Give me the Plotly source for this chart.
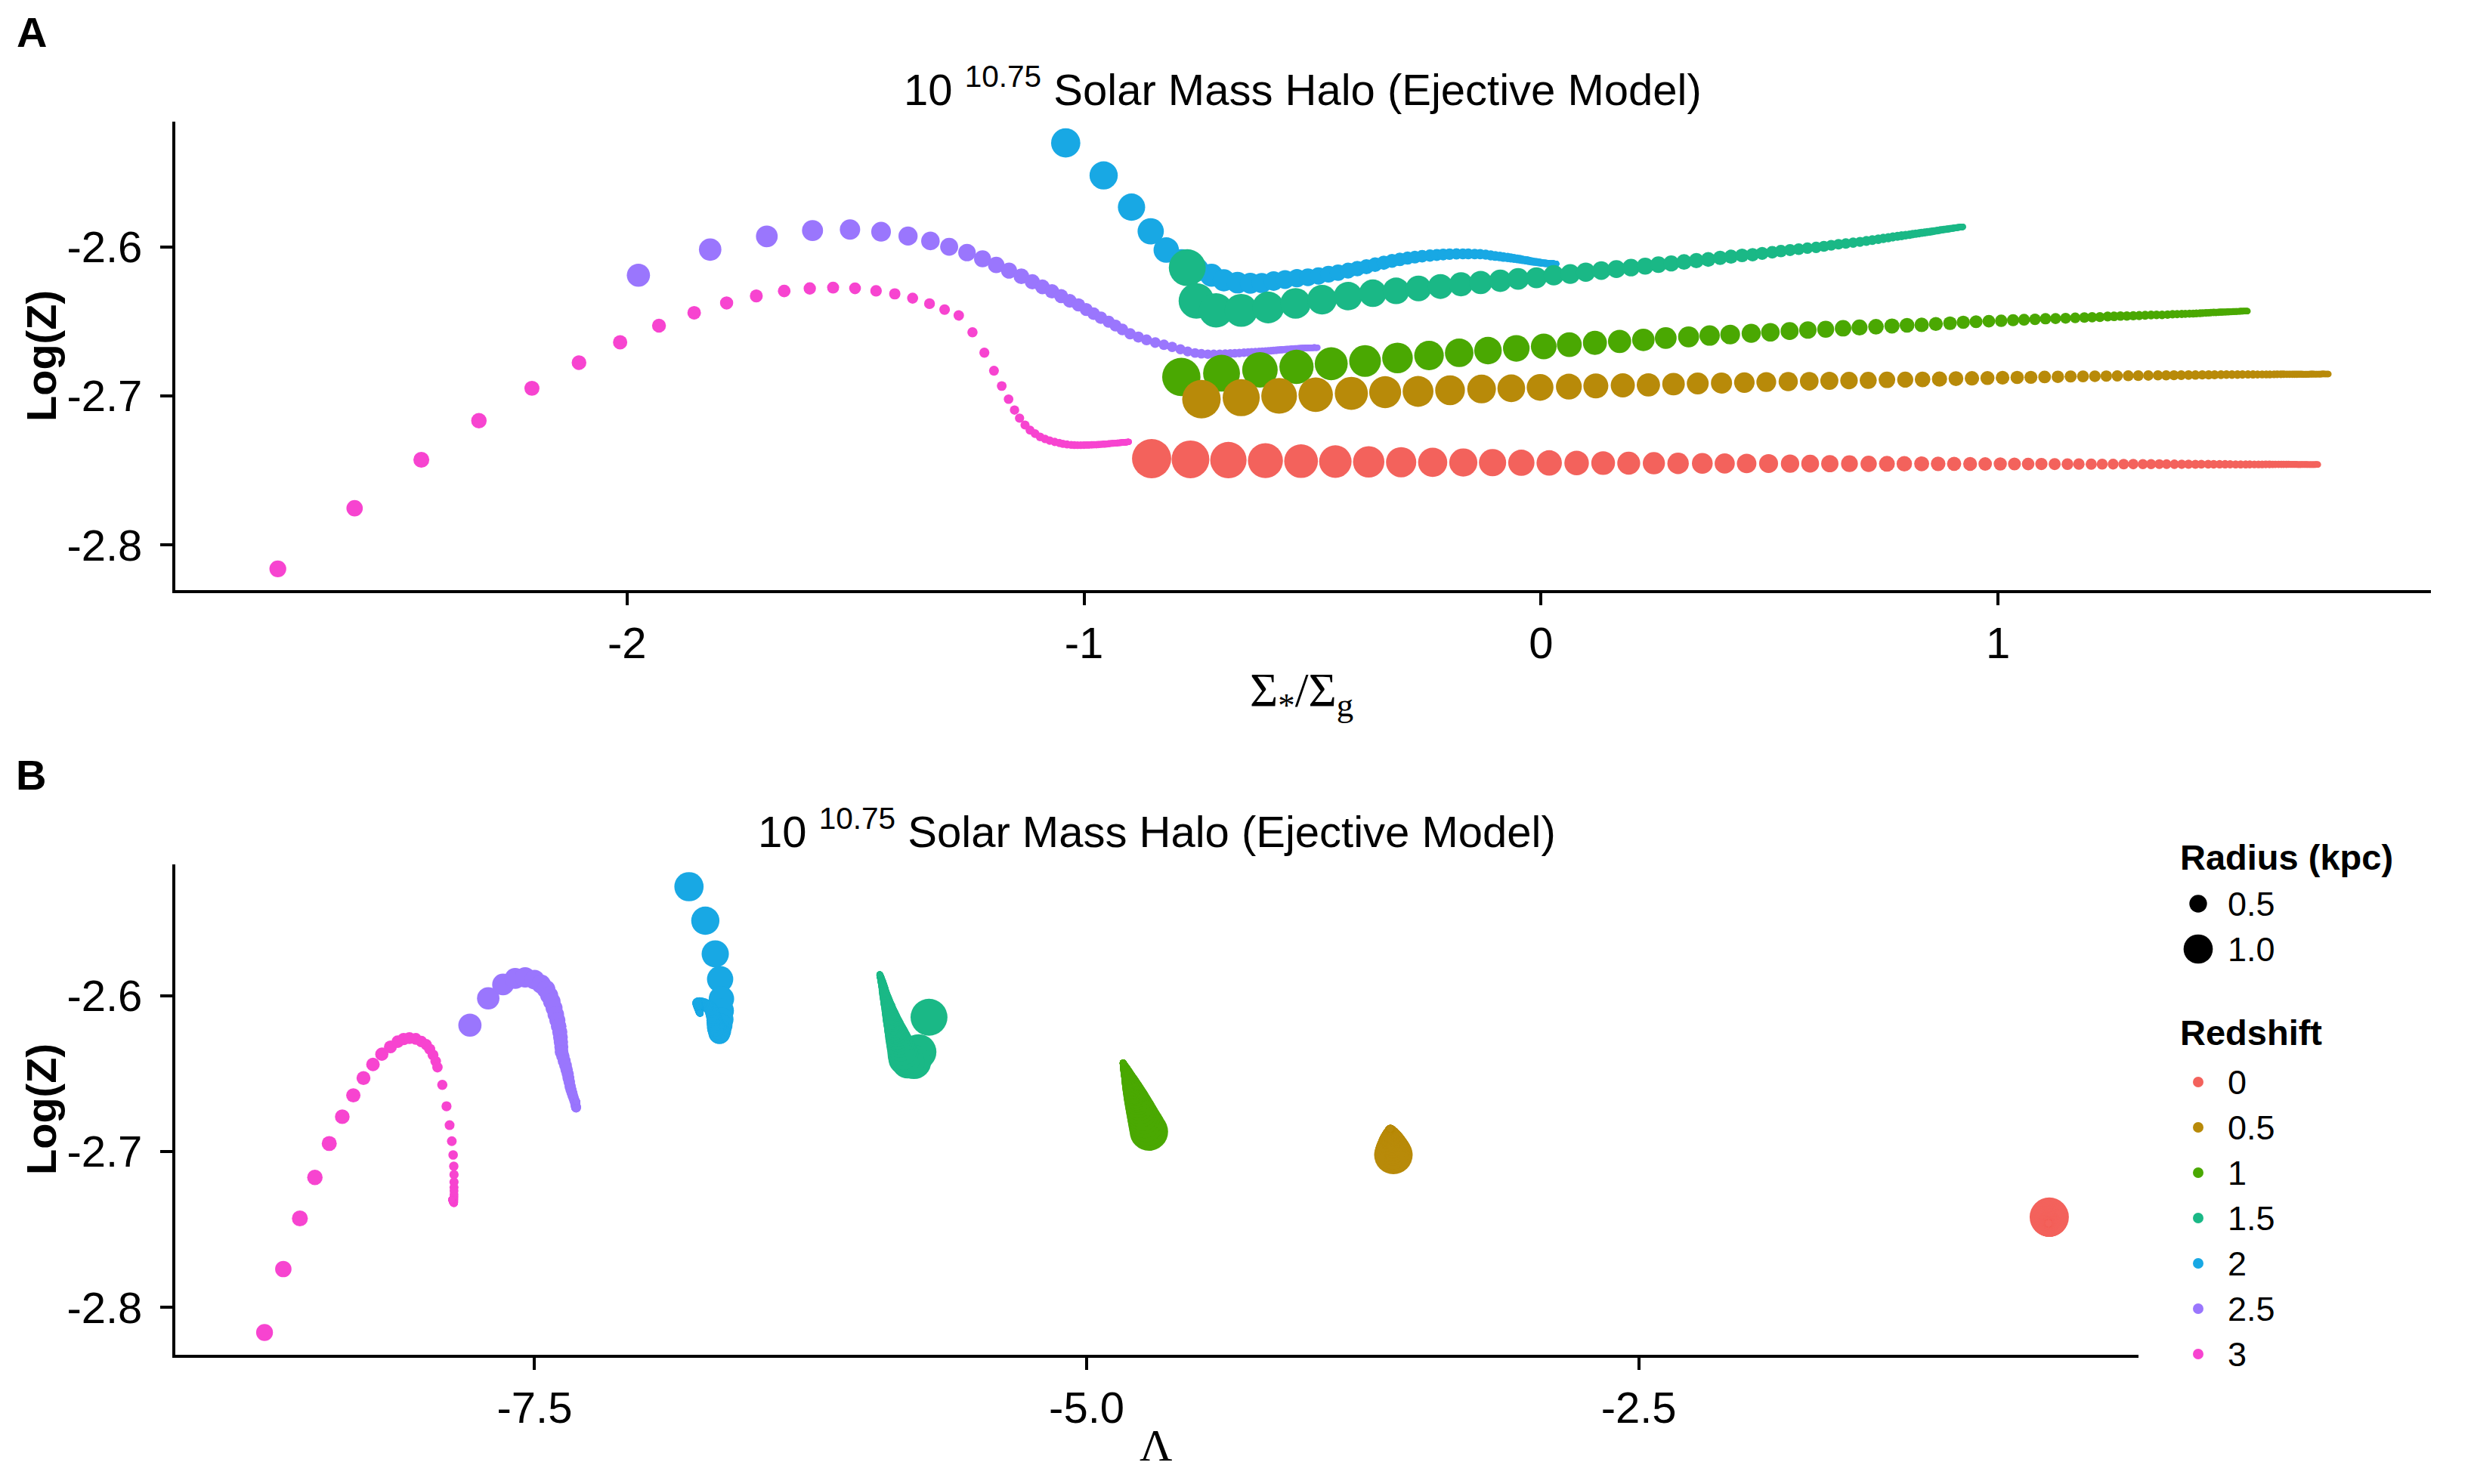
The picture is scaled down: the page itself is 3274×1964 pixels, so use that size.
import plotly.graph_objects as go

# page size of the reference; the html body keeps an 8 px margin, so the figure
# itself is a little smaller and every layout position is given in page pixels
PAGE_W, PAGE_H = 3274, 1964
OFF = 8
W, H = PAGE_W - 2 * OFF, PAGE_H - 2 * OFF
SANS = "Liberation Sans, Arial, sans-serif"
SERIF = "Liberation Serif, Times New Roman, serif"

# ---------------------------------------------------------------- data
redshift_labels = ["0", "0.5", "1", "1.5", "2", "2.5", "3"]
redshift_colors = ["#F3625C", "#B88A09", "#4AA802", "#1AB886", "#18A8E4", "#9A76FD", "#F744D0"]
outer_radius = [1.43, 1.40, 1.39, 1.33, 1.00, 0.74, 0.466]   # kpc, outermost ring per redshift
size_breaks = [0.5, 1.0]
size_labels = ["0.5", "1.0"]

# ring radius relative to the outermost ring (same grid for every redshift)
radius_frac = [
    1.000, 0.956, 0.914, 0.874, 0.835, 0.798, 0.763, 0.730, 0.698, 0.667,
    0.638, 0.610, 0.583, 0.557, 0.533, 0.509, 0.487, 0.465, 0.445, 0.425,
    0.407, 0.389, 0.372, 0.355, 0.340, 0.325, 0.310, 0.297, 0.284, 0.271,
    0.259, 0.248, 0.237, 0.226, 0.216, 0.207, 0.198, 0.189, 0.181, 0.173,
    0.165, 0.158, 0.151, 0.144, 0.138, 0.132, 0.126, 0.121, 0.115, 0.110,
    0.105, 0.101, 0.096, 0.092, 0.088, 0.084, 0.081, 0.077, 0.074, 0.070,
    0.067, 0.064, 0.061, 0.059, 0.056, 0.054, 0.051, 0.049, 0.047, 0.045,
    0.043, 0.041, 0.039, 0.037, 0.036, 0.034, 0.033, 0.031, 0.030, 0.029,
    0.027, 0.026, 0.025, 0.024, 0.023, 0.022, 0.021, 0.020, 0.019, 0.018,
    0.017, 0.017, 0.016, 0.015, 0.015, 0.014, 0.013, 0.013, 0.012, 0.012,
]

# z = 0
ratio_z0 = [
    -0.852, -0.767, -0.684, -0.603, -0.525, -0.450, -0.377, -0.306, -0.237, -0.170,
    -0.106, -0.043, 0.018, 0.078, 0.136, 0.192, 0.247, 0.300, 0.353, 0.402,
    0.450, 0.498, 0.545, 0.589, 0.632, 0.675, 0.717, 0.757, 0.795, 0.833,
    0.869, 0.904, 0.939, 0.972, 1.005, 1.036, 1.066, 1.095, 1.124, 1.152,
    1.177, 1.204, 1.228, 1.252, 1.275, 1.296, 1.317, 1.335, 1.353, 1.369,
    1.386, 1.402, 1.417, 1.432, 1.445, 1.460, 1.472, 1.485, 1.497, 1.508,
    1.520, 1.531, 1.542, 1.551, 1.561, 1.570, 1.578, 1.586, 1.594, 1.601,
    1.607, 1.614, 1.620, 1.625, 1.631, 1.636, 1.641, 1.645, 1.649, 1.653,
    1.657, 1.661, 1.664, 1.667, 1.670, 1.673, 1.676, 1.678, 1.681, 1.683,
    1.685, 1.687, 1.689, 1.691, 1.693, 1.695, 1.696, 1.697, 1.699, 1.700,
]
logz_z0 = [
    -2.7420, -2.7425, -2.7430, -2.7434, -2.7437, -2.7440, -2.7442, -2.7444, -2.7445, -2.7446,
    -2.7447, -2.7448, -2.7449, -2.7450, -2.7450, -2.7451, -2.7451, -2.7452, -2.7452, -2.7453,
    -2.7453, -2.7453, -2.7454, -2.7454, -2.7454, -2.7454, -2.7455, -2.7455, -2.7455, -2.7455,
    -2.7455, -2.7455, -2.7456, -2.7456, -2.7456, -2.7456, -2.7456, -2.7456, -2.7457, -2.7457,
    -2.7457, -2.7457, -2.7457, -2.7457, -2.7457, -2.7457, -2.7457, -2.7457, -2.7457, -2.7457,
    -2.7458, -2.7458, -2.7458, -2.7458, -2.7458, -2.7458, -2.7458, -2.7458, -2.7458, -2.7458,
    -2.7459, -2.7459, -2.7459, -2.7459, -2.7459, -2.7459, -2.7459, -2.7459, -2.7459, -2.7459,
    -2.7459, -2.7459, -2.7459, -2.7459, -2.7459, -2.7459, -2.7459, -2.7459, -2.7459, -2.7459,
    -2.7460, -2.7460, -2.7460, -2.7460, -2.7460, -2.7460, -2.7460, -2.7460, -2.7460, -2.7460,
    -2.7460, -2.7460, -2.7460, -2.7460, -2.7460, -2.7460, -2.7460, -2.7460, -2.7460, -2.7460,
]
lam_z0 = [
    -0.641, -0.641, -0.641, -0.641, -0.641, -0.641, -0.641, -0.641, -0.641, -0.641,
    -0.642, -0.642, -0.642, -0.642, -0.642, -0.642, -0.642, -0.642, -0.642, -0.642,
    -0.642, -0.642, -0.642, -0.642, -0.642, -0.642, -0.642, -0.642, -0.642, -0.642,
    -0.643, -0.643, -0.643, -0.643, -0.643, -0.643, -0.643, -0.643, -0.643, -0.643,
    -0.643, -0.643, -0.643, -0.643, -0.643, -0.643, -0.643, -0.643, -0.643, -0.643,
    -0.643, -0.643, -0.643, -0.643, -0.643, -0.643, -0.643, -0.643, -0.643, -0.643,
    -0.644, -0.644, -0.644, -0.644, -0.644, -0.644, -0.644, -0.644, -0.644, -0.644,
    -0.644, -0.644, -0.644, -0.644, -0.644, -0.644, -0.644, -0.644, -0.644, -0.644,
    -0.644, -0.644, -0.644, -0.644, -0.644, -0.644, -0.644, -0.644, -0.644, -0.644,
    -0.644, -0.644, -0.644, -0.644, -0.644, -0.644, -0.644, -0.644, -0.644, -0.644,
]

# z = 0.5
ratio_z0p5 = [
    -0.743, -0.656, -0.573, -0.493, -0.415, -0.341, -0.269, -0.199, -0.130, -0.065,
    -0.002, 0.061, 0.120, 0.179, 0.235, 0.290, 0.343, 0.395, 0.445, 0.493,
    0.541, 0.587, 0.631, 0.674, 0.716, 0.757, 0.797, 0.835, 0.872, 0.908,
    0.943, 0.977, 1.010, 1.042, 1.072, 1.102, 1.131, 1.159, 1.186, 1.212,
    1.237, 1.261, 1.285, 1.307, 1.329, 1.350, 1.368, 1.385, 1.401, 1.417,
    1.432, 1.447, 1.461, 1.474, 1.488, 1.500, 1.512, 1.524, 1.535, 1.547,
    1.558, 1.568, 1.578, 1.587, 1.595, 1.604, 1.611, 1.619, 1.625, 1.632,
    1.638, 1.644, 1.649, 1.654, 1.659, 1.664, 1.668, 1.672, 1.676, 1.680,
    1.684, 1.687, 1.690, 1.693, 1.696, 1.698, 1.701, 1.703, 1.705, 1.707,
    1.709, 1.711, 1.713, 1.715, 1.716, 1.718, 1.719, 1.721, 1.722, 1.723,
]
logz_z0p5 = [
    -2.7021, -2.7011, -2.6999, -2.6991, -2.6982, -2.6974, -2.6969, -2.6961, -2.6953, -2.6948,
    -2.6942, -2.6937, -2.6932, -2.6928, -2.6925, -2.6920, -2.6916, -2.6913, -2.6910, -2.6906,
    -2.6903, -2.6901, -2.6898, -2.6896, -2.6895, -2.6891, -2.6890, -2.6888, -2.6886, -2.6883,
    -2.6881, -2.6879, -2.6877, -2.6875, -2.6874, -2.6872, -2.6871, -2.6869, -2.6868, -2.6867,
    -2.6866, -2.6865, -2.6864, -2.6863, -2.6862, -2.6861, -2.6861, -2.6860, -2.6860, -2.6859,
    -2.6859, -2.6858, -2.6858, -2.6857, -2.6857, -2.6856, -2.6856, -2.6856, -2.6855, -2.6855,
    -2.6855, -2.6855, -2.6855, -2.6855, -2.6855, -2.6854, -2.6854, -2.6854, -2.6854, -2.6854,
    -2.6854, -2.6854, -2.6854, -2.6854, -2.6854, -2.6854, -2.6854, -2.6854, -2.6854, -2.6854,
    -2.6853, -2.6853, -2.6853, -2.6853, -2.6853, -2.6853, -2.6853, -2.6853, -2.6853, -2.6853,
    -2.6852, -2.6852, -2.6852, -2.6852, -2.6852, -2.6852, -2.6852, -2.6852, -2.6852, -2.6852,
]
lam_z0p5 = [
    -3.6110, -3.6118, -3.6128, -3.6135, -3.6142, -3.6149, -3.6153, -3.6160, -3.6166, -3.6170,
    -3.6175, -3.6180, -3.6184, -3.6187, -3.6189, -3.6194, -3.6197, -3.6199, -3.6202, -3.6205,
    -3.6208, -3.6209, -3.6212, -3.6213, -3.6214, -3.6218, -3.6218, -3.6220, -3.6222, -3.6224,
    -3.6226, -3.6228, -3.6229, -3.6231, -3.6232, -3.6233, -3.6234, -3.6236, -3.6237, -3.6238,
    -3.6238, -3.6239, -3.6240, -3.6241, -3.6242, -3.6243, -3.6243, -3.6244, -3.6244, -3.6244,
    -3.6244, -3.6245, -3.6245, -3.6246, -3.6246, -3.6247, -3.6247, -3.6247, -3.6248, -3.6248,
    -3.6248, -3.6248, -3.6248, -3.6248, -3.6248, -3.6249, -3.6249, -3.6249, -3.6249, -3.6249,
    -3.6249, -3.6249, -3.6249, -3.6249, -3.6249, -3.6249, -3.6249, -3.6249, -3.6249, -3.6249,
    -3.6250, -3.6250, -3.6250, -3.6250, -3.6250, -3.6250, -3.6250, -3.6250, -3.6250, -3.6250,
    -3.6250, -3.6250, -3.6250, -3.6250, -3.6250, -3.6250, -3.6250, -3.6250, -3.6250, -3.6250,
]

# z = 1
ratio_z1 = [
    -0.787, -0.699, -0.615, -0.535, -0.459, -0.385, -0.314, -0.245, -0.179, -0.116,
    -0.054, 0.006, 0.062, 0.118, 0.172, 0.224, 0.273, 0.323, 0.369, 0.414,
    0.460, 0.502, 0.544, 0.584, 0.623, 0.661, 0.697, 0.733, 0.768, 0.801,
    0.833, 0.864, 0.895, 0.924, 0.952, 0.980, 1.007, 1.033, 1.057, 1.081,
    1.104, 1.126, 1.148, 1.169, 1.189, 1.206, 1.223, 1.240, 1.254, 1.268,
    1.282, 1.296, 1.309, 1.322, 1.335, 1.347, 1.359, 1.371, 1.382, 1.392,
    1.402, 1.410, 1.419, 1.427, 1.434, 1.442, 1.448, 1.455, 1.461, 1.466,
    1.472, 1.477, 1.482, 1.486, 1.490, 1.494, 1.498, 1.502, 1.505, 1.508,
    1.511, 1.514, 1.517, 1.520, 1.522, 1.524, 1.527, 1.529, 1.531, 1.532,
    1.534, 1.536, 1.537, 1.539, 1.540, 1.541, 1.543, 1.544, 1.545, 1.546,
]
logz_z1 = [
    -2.6872, -2.6847, -2.6824, -2.6804, -2.6783, -2.6765, -2.6744, -2.6728, -2.6710, -2.6695,
    -2.6680, -2.6667, -2.6655, -2.6643, -2.6633, -2.6623, -2.6611, -2.6603, -2.6594, -2.6587,
    -2.6579, -2.6572, -2.6564, -2.6557, -2.6552, -2.6545, -2.6540, -2.6535, -2.6530, -2.6525,
    -2.6522, -2.6516, -2.6511, -2.6505, -2.6501, -2.6498, -2.6495, -2.6491, -2.6488, -2.6485,
    -2.6481, -2.6480, -2.6478, -2.6475, -2.6473, -2.6471, -2.6470, -2.6466, -2.6465, -2.6463,
    -2.6463, -2.6461, -2.6460, -2.6458, -2.6456, -2.6455, -2.6455, -2.6453, -2.6451, -2.6450,
    -2.6449, -2.6448, -2.6447, -2.6446, -2.6445, -2.6444, -2.6443, -2.6442, -2.6441, -2.6440,
    -2.6439, -2.6439, -2.6438, -2.6437, -2.6437, -2.6436, -2.6436, -2.6435, -2.6435, -2.6434,
    -2.6434, -2.6433, -2.6433, -2.6433, -2.6432, -2.6432, -2.6432, -2.6431, -2.6431, -2.6431,
    -2.6431, -2.6431, -2.6430, -2.6430, -2.6430, -2.6430, -2.6430, -2.6430, -2.6430, -2.6430,
]
lam_z1 = [
    -4.7181, -4.7247, -4.7308, -4.7361, -4.7417, -4.7465, -4.7521, -4.7563, -4.7611, -4.7651,
    -4.7691, -4.7725, -4.7757, -4.7789, -4.7815, -4.7842, -4.7874, -4.7895, -4.7919, -4.7938,
    -4.7959, -4.7977, -4.7999, -4.8017, -4.8030, -4.8049, -4.8062, -4.8076, -4.8089, -4.8102,
    -4.8110, -4.8126, -4.8139, -4.8155, -4.8166, -4.8174, -4.8182, -4.8192, -4.8200, -4.8208,
    -4.8219, -4.8222, -4.8227, -4.8235, -4.8240, -4.8246, -4.8248, -4.8259, -4.8261, -4.8267,
    -4.8267, -4.8272, -4.8275, -4.8280, -4.8285, -4.8288, -4.8288, -4.8293, -4.8299, -4.8301,
    -4.8304, -4.8307, -4.8309, -4.8312, -4.8315, -4.8317, -4.8320, -4.8323, -4.8325, -4.8328,
    -4.8331, -4.8331, -4.8333, -4.8336, -4.8336, -4.8338, -4.8338, -4.8341, -4.8341, -4.8344,
    -4.8344, -4.8346, -4.8346, -4.8346, -4.8349, -4.8349, -4.8349, -4.8352, -4.8352, -4.8352,
    -4.8352, -4.8352, -4.8354, -4.8354, -4.8354, -4.8354, -4.8354, -4.8354, -4.8354, -4.8354,
]

# z = 1.5
ratio_z1p5 = [
    -0.774, -0.754, -0.711, -0.656, -0.597, -0.537, -0.479, -0.422, -0.368, -0.317,
    -0.268, -0.220, -0.175, -0.132, -0.089, -0.050, -0.010, 0.028, 0.064, 0.098,
    0.132, 0.165, 0.197, 0.228, 0.257, 0.285, 0.313, 0.340, 0.366, 0.392,
    0.416, 0.440, 0.463, 0.484, 0.506, 0.525, 0.545, 0.564, 0.583, 0.602,
    0.619, 0.635, 0.651, 0.667, 0.683, 0.698, 0.712, 0.725, 0.738, 0.749,
    0.760, 0.770, 0.780, 0.789, 0.798, 0.806, 0.813, 0.820, 0.827, 0.833,
    0.839, 0.845, 0.850, 0.855, 0.859, 0.864, 0.868, 0.872, 0.875, 0.879,
    0.882, 0.885, 0.888, 0.890, 0.893, 0.895, 0.897, 0.899, 0.901, 0.903,
    0.905, 0.906, 0.908, 0.909, 0.911, 0.912, 0.913, 0.914, 0.915, 0.916,
    0.917, 0.918, 0.919, 0.919, 0.920, 0.921, 0.921, 0.922, 0.923, 0.923,
]
logz_z1p5 = [
    -2.6138, -2.6361, -2.6425, -2.6425, -2.6405, -2.6378, -2.6353, -2.6329, -2.6310, -2.6294,
    -2.6278, -2.6265, -2.6250, -2.6238, -2.6226, -2.6214, -2.6206, -2.6189, -2.6181, -2.6169,
    -2.6158, -2.6148, -2.6138, -2.6128, -2.6118, -2.6110, -2.6100, -2.6091, -2.6083, -2.6072,
    -2.6064, -2.6056, -2.6051, -2.6042, -2.6035, -2.6027, -2.6020, -2.6014, -2.6007, -2.6002,
    -2.5995, -2.5988, -2.5981, -2.5976, -2.5970, -2.5965, -2.5959, -2.5953, -2.5947, -2.5942,
    -2.5937, -2.5932, -2.5928, -2.5924, -2.5920, -2.5917, -2.5913, -2.5910, -2.5907, -2.5904,
    -2.5902, -2.5899, -2.5897, -2.5895, -2.5893, -2.5891, -2.5889, -2.5887, -2.5885, -2.5884,
    -2.5882, -2.5881, -2.5880, -2.5879, -2.5878, -2.5876, -2.5876, -2.5875, -2.5874, -2.5873,
    -2.5872, -2.5871, -2.5871, -2.5870, -2.5869, -2.5869, -2.5868, -2.5868, -2.5867, -2.5867,
    -2.5867, -2.5866, -2.5866, -2.5865, -2.5865, -2.5865, -2.5865, -2.5864, -2.5864, -2.5864,
]
lam_z1p5 = [
    -5.714, -5.761, -5.782, -5.809, -5.826, -5.832, -5.836, -5.841, -5.845, -5.849,
    -5.853, -5.856, -5.859, -5.862, -5.865, -5.868, -5.870, -5.873, -5.876, -5.878,
    -5.881, -5.883, -5.885, -5.887, -5.889, -5.891, -5.893, -5.895, -5.896, -5.898,
    -5.900, -5.902, -5.903, -5.905, -5.906, -5.907, -5.909, -5.910, -5.911, -5.912,
    -5.914, -5.915, -5.916, -5.917, -5.918, -5.919, -5.919, -5.920, -5.921, -5.922,
    -5.923, -5.924, -5.924, -5.925, -5.926, -5.926, -5.927, -5.928, -5.928, -5.929,
    -5.929, -5.930, -5.930, -5.931, -5.931, -5.931, -5.932, -5.932, -5.932, -5.933,
    -5.933, -5.933, -5.934, -5.934, -5.934, -5.934, -5.935, -5.935, -5.935, -5.935,
    -5.935, -5.936, -5.936, -5.936, -5.936, -5.936, -5.936, -5.937, -5.937, -5.937,
    -5.937, -5.937, -5.937, -5.937, -5.937, -5.937, -5.937, -5.937, -5.937, -5.937,
]

# z = 2
ratio_z2 = [
    -1.040, -0.957, -0.896, -0.854, -0.820, -0.786, -0.753, -0.721, -0.694, -0.664,
    -0.636, -0.611, -0.585, -0.560, -0.534, -0.510, -0.487, -0.465, -0.444, -0.422,
    -0.402, -0.382, -0.363, -0.344, -0.326, -0.309, -0.292, -0.276, -0.260, -0.243,
    -0.228, -0.214, -0.200, -0.185, -0.171, -0.159, -0.145, -0.133, -0.121, -0.110,
    -0.100, -0.090, -0.082, -0.073, -0.066, -0.059, -0.052, -0.046, -0.041, -0.035,
    -0.030, -0.026, -0.022, -0.018, -0.014, -0.010, -0.007, -0.004, -0.001, 0.001,
    0.003, 0.006, 0.008, 0.010, 0.011, 0.013, 0.015, 0.016, 0.018, 0.019,
    0.020, 0.021, 0.022, 0.023, 0.024, 0.024, 0.025, 0.026, 0.027, 0.027,
    0.028, 0.028, 0.029, 0.029, 0.030, 0.030, 0.030, 0.031, 0.031, 0.031,
    0.032, 0.032, 0.032, 0.032, 0.033, 0.033, 0.033, 0.033, 0.033, 0.033,
]
logz_z2 = [
    -2.5301, -2.5519, -2.5732, -2.5894, -2.6020, -2.6096, -2.6152, -2.6189, -2.6223, -2.6239,
    -2.6243, -2.6241, -2.6228, -2.6218, -2.6209, -2.6203, -2.6194, -2.6182, -2.6172, -2.6158,
    -2.6145, -2.6132, -2.6118, -2.6105, -2.6093, -2.6083, -2.6074, -2.6067, -2.6062, -2.6057,
    -2.6053, -2.6050, -2.6048, -2.6046, -2.6046, -2.6046, -2.6047, -2.6048, -2.6051, -2.6056,
    -2.6060, -2.6063, -2.6067, -2.6070, -2.6073, -2.6076, -2.6079, -2.6082, -2.6085, -2.6088,
    -2.6090, -2.6093, -2.6095, -2.6097, -2.6099, -2.6100, -2.6102, -2.6103, -2.6105, -2.6106,
    -2.6107, -2.6108, -2.6109, -2.6109, -2.6110, -2.6110, -2.6111, -2.6111, -2.6111, -2.6111,
    -2.6112, -2.6112, -2.6112, -2.6112, -2.6112, -2.6112, -2.6112, -2.6112, -2.6112, -2.6112,
    -2.6112, -2.6112, -2.6112, -2.6112, -2.6112, -2.6113, -2.6113, -2.6113, -2.6113, -2.6113,
    -2.6113, -2.6113, -2.6113, -2.6113, -2.6113, -2.6113, -2.6113, -2.6113, -2.6113, -2.6113,
]
lam_z2 = [
    -6.801, -6.727, -6.682, -6.660, -6.654, -6.653, -6.653, -6.656, -6.660, -6.662,
    -6.663, -6.667, -6.670, -6.674, -6.677, -6.679, -6.680, -6.682, -6.684, -6.686,
    -6.687, -6.690, -6.693, -6.696, -6.699, -6.703, -6.710, -6.717, -6.724, -6.731,
    -6.737, -6.743, -6.748, -6.753, -6.757, -6.760, -6.762, -6.762, -6.762, -6.761,
    -6.761, -6.760, -6.760, -6.759, -6.759, -6.758, -6.758, -6.757, -6.757, -6.756,
    -6.756, -6.755, -6.755, -6.755, -6.754, -6.754, -6.754, -6.753, -6.753, -6.753,
    -6.753, -6.752, -6.752, -6.752, -6.752, -6.752, -6.751, -6.751, -6.751, -6.751,
    -6.751, -6.751, -6.751, -6.751, -6.751, -6.751, -6.751, -6.751, -6.751, -6.751,
    -6.750, -6.750, -6.750, -6.750, -6.750, -6.750, -6.750, -6.750, -6.750, -6.750,
    -6.750, -6.750, -6.750, -6.750, -6.750, -6.750, -6.750, -6.750, -6.750, -6.750,
]

# z = 2.5
ratio_z2p5 = [
    -1.975, -1.818, -1.694, -1.594, -1.512, -1.444, -1.385, -1.336, -1.295, -1.256,
    -1.222, -1.192, -1.164, -1.137, -1.113, -1.091, -1.070, -1.050, -1.031, -1.012,
    -0.995, -0.979, -0.963, -0.946, -0.931, -0.916, -0.899, -0.881, -0.863, -0.844,
    -0.825, -0.807, -0.789, -0.773, -0.757, -0.743, -0.729, -0.716, -0.703, -0.691,
    -0.680, -0.670, -0.660, -0.650, -0.641, -0.633, -0.625, -0.617, -0.610, -0.603,
    -0.597, -0.591, -0.585, -0.579, -0.574, -0.569, -0.565, -0.560, -0.556, -0.552,
    -0.548, -0.545, -0.541, -0.538, -0.535, -0.532, -0.530, -0.527, -0.525, -0.522,
    -0.520, -0.518, -0.516, -0.514, -0.513, -0.511, -0.509, -0.508, -0.506, -0.505,
    -0.504, -0.503, -0.501, -0.500, -0.499, -0.498, -0.497, -0.497, -0.496, -0.495,
    -0.494, -0.494, -0.493, -0.492, -0.492, -0.491, -0.491, -0.490, -0.490, -0.489,
]
logz_z2p5 = [
    -2.6189, -2.6017, -2.5928, -2.5889, -2.5882, -2.5897, -2.5926, -2.5959, -2.5998, -2.6037,
    -2.6079, -2.6120, -2.6158, -2.6196, -2.6233, -2.6267, -2.6297, -2.6329, -2.6361, -2.6388,
    -2.6419, -2.6447, -2.6474, -2.6501, -2.6527, -2.6553, -2.6582, -2.6604, -2.6623, -2.6641,
    -2.6656, -2.6670, -2.6686, -2.6701, -2.6711, -2.6716, -2.6719, -2.6719, -2.6718, -2.6716,
    -2.6715, -2.6713, -2.6711, -2.6709, -2.6707, -2.6705, -2.6704, -2.6702, -2.6700, -2.6699,
    -2.6697, -2.6696, -2.6694, -2.6693, -2.6691, -2.6690, -2.6689, -2.6688, -2.6687, -2.6686,
    -2.6685, -2.6684, -2.6683, -2.6682, -2.6682, -2.6681, -2.6680, -2.6680, -2.6679, -2.6679,
    -2.6678, -2.6678, -2.6678, -2.6677, -2.6677, -2.6677, -2.6677, -2.6676, -2.6676, -2.6676,
    -2.6676, -2.6676, -2.6676, -2.6676, -2.6676, -2.6675, -2.6675, -2.6675, -2.6675, -2.6675,
    -2.6675, -2.6675, -2.6675, -2.6675, -2.6675, -2.6675, -2.6675, -2.6675, -2.6675, -2.6675,
]
lam_z2p5 = [
    -7.793, -7.710, -7.643, -7.588, -7.543, -7.500, -7.470, -7.448, -7.434, -7.422,
    -7.412, -7.404, -7.397, -7.391, -7.386, -7.383, -7.381, -7.379, -7.378, -7.372,
    -7.366, -7.360, -7.355, -7.350, -7.347, -7.343, -7.339, -7.335, -7.331, -7.327,
    -7.323, -7.320, -7.317, -7.315, -7.314, -7.313, -7.312, -7.312, -7.312, -7.312,
    -7.311, -7.311, -7.311, -7.311, -7.311, -7.311, -7.311, -7.311, -7.311, -7.311,
    -7.311, -7.311, -7.311, -7.311, -7.311, -7.311, -7.311, -7.311, -7.311, -7.311,
    -7.310, -7.310, -7.310, -7.310, -7.310, -7.310, -7.310, -7.310, -7.310, -7.310,
    -7.310, -7.310, -7.310, -7.310, -7.310, -7.310, -7.310, -7.310, -7.310, -7.310,
    -7.310, -7.310, -7.310, -7.310, -7.310, -7.310, -7.310, -7.310, -7.310, -7.310,
    -7.310, -7.310, -7.310, -7.310, -7.310, -7.310, -7.310, -7.310, -7.310, -7.310,
]

# z = 3
ratio_z3 = [
    -2.764, -2.596, -2.450, -2.324, -2.208, -2.105, -2.015, -1.930, -1.853, -1.782,
    -1.717, -1.656, -1.600, -1.549, -1.501, -1.455, -1.414, -1.375, -1.338, -1.305,
    -1.274, -1.244, -1.218, -1.197, -1.180, -1.165, -1.152, -1.141, -1.129, -1.118,
    -1.107, -1.096, -1.085, -1.075, -1.064, -1.054, -1.046, -1.037, -1.028, -1.021,
    -1.014, -1.007, -1.000, -0.994, -0.989, -0.983, -0.978, -0.973, -0.969, -0.965,
    -0.961, -0.957, -0.954, -0.950, -0.947, -0.945, -0.942, -0.939, -0.937, -0.935,
    -0.932, -0.930, -0.929, -0.927, -0.926, -0.924, -0.922, -0.921, -0.920, -0.918,
    -0.917, -0.916, -0.915, -0.914, -0.913, -0.913, -0.912, -0.911, -0.910, -0.910,
    -0.909, -0.908, -0.908, -0.907, -0.907, -0.906, -0.906, -0.906, -0.905, -0.905,
    -0.905, -0.904, -0.904, -0.904, -0.903, -0.903, -0.903, -0.903, -0.902, -0.902,
]
logz_z3 = [
    -2.8160, -2.7753, -2.7428, -2.7166, -2.6948, -2.6776, -2.6639, -2.6528, -2.6441, -2.6375,
    -2.6328, -2.6295, -2.6278, -2.6272, -2.6277, -2.6294, -2.6314, -2.6343, -2.6380, -2.6420,
    -2.6459, -2.6572, -2.6709, -2.6830, -2.6933, -2.7021, -2.7094, -2.7148, -2.7195, -2.7229,
    -2.7252, -2.7274, -2.7288, -2.7299, -2.7308, -2.7315, -2.7321, -2.7325, -2.7328, -2.7329,
    -2.7330, -2.7330, -2.7330, -2.7329, -2.7329, -2.7328, -2.7327, -2.7327, -2.7326, -2.7325,
    -2.7324, -2.7323, -2.7323, -2.7322, -2.7321, -2.7320, -2.7319, -2.7318, -2.7318, -2.7317,
    -2.7317, -2.7316, -2.7316, -2.7315, -2.7315, -2.7314, -2.7314, -2.7313, -2.7313, -2.7313,
    -2.7312, -2.7312, -2.7312, -2.7311, -2.7311, -2.7311, -2.7311, -2.7310, -2.7310, -2.7310,
    -2.7310, -2.7310, -2.7309, -2.7309, -2.7309, -2.7309, -2.7309, -2.7309, -2.7309, -2.7309,
    -2.7308, -2.7308, -2.7308, -2.7308, -2.7308, -2.7308, -2.7308, -2.7308, -2.7308, -2.7308,
]
lam_z3 = [
    -8.723, -8.638, -8.563, -8.495, -8.430, -8.371, -8.321, -8.275, -8.232, -8.192,
    -8.153, -8.120, -8.093, -8.067, -8.038, -8.013, -7.991, -7.975, -7.960, -7.948,
    -7.940, -7.918, -7.899, -7.885, -7.875, -7.869, -7.866, -7.865, -7.865, -7.865,
    -7.865, -7.865, -7.865, -7.865, -7.865, -7.865, -7.865, -7.865, -7.865, -7.865,
    -7.865, -7.866, -7.866, -7.867, -7.867, -7.868, -7.868, -7.869, -7.869, -7.870,
    -7.870, -7.871, -7.871, -7.872, -7.872, -7.872, -7.873, -7.873, -7.873, -7.874,
    -7.874, -7.874, -7.874, -7.874, -7.874, -7.874, -7.874, -7.874, -7.874, -7.874,
    -7.875, -7.875, -7.875, -7.875, -7.875, -7.875, -7.875, -7.875, -7.875, -7.875,
    -7.875, -7.875, -7.875, -7.875, -7.875, -7.875, -7.875, -7.875, -7.875, -7.875,
    -7.876, -7.876, -7.876, -7.876, -7.876, -7.876, -7.876, -7.876, -7.876, -7.876,
]

ratio_ticks = [-2, -1, 0, 1]
ratio_ticktext = ["-2", "-1", "0", "1"]
logz_ticks = [-2.8, -2.7, -2.6]
logz_ticktext = ["-2.8", "-2.7", "-2.6"]
lam_ticks = [-7.5, -5.0, -2.5]
lam_ticktext = ["-7.5", "-5.0", "-2.5"]

ratio_all = [ratio_z0, ratio_z0p5, ratio_z1, ratio_z1p5, ratio_z2, ratio_z2p5, ratio_z3]
logz_all = [logz_z0, logz_z0p5, logz_z1, logz_z1p5, logz_z2, logz_z2p5, logz_z3]
lam_all = [lam_z0, lam_z0p5, lam_z1, lam_z1p5, lam_z2, lam_z2p5, lam_z3]


# ---------------------------------------------------------------- helpers
def dot_px(r):
    # point diameter (px) for a radius in kpc
    return 8 + 30.7 * r


def padded(lists):
    vals = [v for l in lists for v in l]
    lo, hi = min(vals), max(vals)
    pad = 0.05 * (hi - lo)
    return [lo - pad, hi + pad]


def fx(p):
    # page pixel -> paper fraction
    return (p - OFF) / W


def fy(p):
    return 1 - (p - OFF) / H


fig = go.Figure()

# higher redshift drawn first so z = 0 ends on top (as in the original)
for k in reversed(range(len(redshift_labels))):
    sizes = [dot_px(outer_radius[k] * f) for f in radius_frac]
    for xs, xa, ya in ((ratio_all[k], "x", "y"), (lam_all[k], "x2", "y2")):
        fig.add_trace(go.Scatter(
            x=xs, y=logz_all[k], xaxis=xa, yaxis=ya, mode="markers",
            marker=dict(size=sizes, color=redshift_colors[k], line=dict(width=0), opacity=1),
            hoverinfo="skip", showlegend=False,
        ))

# ---------------------------------------------------------------- legend (drawn by hand)
LEG_X, KEY_X, LAB_X = 2883, 2909, 2946
ROW = 60
size_rows = [1196 + ROW * i for i in range(len(size_breaks))]
color_rows = [1432 + ROW * i for i in range(len(redshift_labels))]

fig.add_trace(go.Scatter(
    x=[KEY_X] * len(size_breaks), y=size_rows, xaxis="x3", yaxis="y3", mode="markers",
    marker=dict(size=[dot_px(b) for b in size_breaks], color="black", line=dict(width=0), opacity=1),
    hoverinfo="skip", showlegend=False,
))
fig.add_trace(go.Scatter(
    x=[KEY_X] * len(redshift_labels), y=color_rows, xaxis="x3", yaxis="y3", mode="markers",
    marker=dict(size=14, color=redshift_colors, line=dict(width=0), opacity=1),
    hoverinfo="skip", showlegend=False,
))

annotations = []


def ann(text, x, y, size, family=SANS, xanchor="center", yanchor="middle", angle=0):
    annotations.append(dict(
        text=text, x=fx(x), y=fy(y), xref="paper", yref="paper", showarrow=False,
        xanchor=xanchor, yanchor=yanchor, textangle=angle,
        font=dict(family=family, size=size, color="black"),
    ))


ann("<b>Radius (kpc)</b>", LEG_X, 1134, 47, xanchor="left")
ann("<b>Redshift</b>", LEG_X, 1366, 47, xanchor="left")
for lab, yy in zip(size_labels, size_rows):
    ann(lab, LAB_X, yy, 45, xanchor="left")
for lab, yy in zip(redshift_labels, color_rows):
    ann(lab, LAB_X, yy, 45, xanchor="left")

title = "10 <sup>10.75</sup> Solar Mass Halo (Ejective Model)"
ann(title, 1724, 114, 58)
ann(title, 1531, 1096, 58)
ann("<b>A</b>", 42, 42, 56)
ann("<b>B</b>", 41, 1026, 56)
ann("<b>Log(Z)</b>", 54, 471, 56, angle=-90)
ann("<b>Log(Z)</b>", 54, 1468, 56, angle=-90)
ann("Σ<sub>*</sub>/Σ<sub>g</sub>", 1722, 918, 64, family=SERIF)
ann("Λ", 1530, 1913, 60, family=SERIF)

axis_style = dict(
    showline=True, linecolor="black", linewidth=4, mirror=False,
    ticks="outside", ticklen=16, tickwidth=4, tickcolor="black",
    showgrid=False, zeroline=False,
    tickfont=dict(family=SANS, size=58, color="black"),
    tickmode="array",
)

fig.update_layout(
    width=W, height=H, autosize=False,
    margin=dict(l=0, r=0, t=0, b=0),
    paper_bgcolor="white", plot_bgcolor="rgba(0,0,0,0)",
    annotations=annotations,
    xaxis=dict(axis_style, domain=[fx(232), fx(3217)], range=padded(ratio_all),
               tickvals=ratio_ticks, ticktext=ratio_ticktext, anchor="y"),
    yaxis=dict(axis_style, domain=[fy(781), fy(161)], range=padded(logz_all),
               tickvals=logz_ticks, ticktext=logz_ticktext, anchor="x", ticklabelstandoff=12),
    xaxis2=dict(axis_style, domain=[fx(232), fx(2830)], range=padded(lam_all),
                tickvals=lam_ticks, ticktext=lam_ticktext, anchor="y2"),
    yaxis2=dict(axis_style, domain=[fy(1793), fy(1144)], range=padded(logz_all),
                tickvals=logz_ticks, ticktext=logz_ticktext, anchor="x2", ticklabelstandoff=12),
    # hidden full-page axes used only to place the legend keys in page pixels
    xaxis3=dict(domain=[0, 1], range=[OFF, OFF + W], visible=False, anchor="y3", fixedrange=True),
    yaxis3=dict(domain=[0, 1], range=[OFF + H, OFF], visible=False, anchor="x3", fixedrange=True),
)

fig.write_html("out.html")
